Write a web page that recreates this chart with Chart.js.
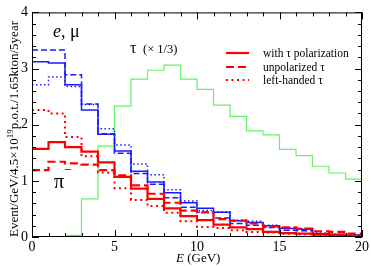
<!DOCTYPE html>
<html><head><meta charset="utf-8">
<script src="https://cdn.jsdelivr.net/npm/chart.js@4/dist/chart.umd.min.js"></script>
<style>html,body{margin:0;padding:0;background:#fff;}canvas{display:block;}</style>
</head><body>
<canvas id="c" width="371" height="266"></canvas>
<script>
// Bin edges (GeV)
const binEdges = [0,1,2,3,4,5,6,7,8,9,10,11,12,13,14,15,16,17,18,19,20];
// e, mu events
const eWithPol   = [3.12,3.10,2.71,2.26,1.83,1.53,1.17,0.98,0.79,0.61,0.51,0.44,0.29,0.26,0.20,0.15,0.14,0.06,0.05,0.03];
const eUnpol     = [3.33,3.33,2.89,2.37,1.84,1.49,1.13,0.94,0.70,0.53,0.44,0.34,0.24,0.21,0.17,0.12,0.11,0.05,0.04,0.03];
const eLeft      = [2.71,2.85,2.68,2.36,1.93,1.64,1.30,1.11,0.84,0.64,0.47,0.45,0.30,0.28,0.21,0.16,0.15,0.07,0.05,0.04];
// pi- events
const piWithPol  = [1.57,1.69,1.60,1.52,1.33,1.07,0.86,0.68,0.51,0.37,0.30,0.22,0.17,0.14,0.09,0.07,0.06,0.04,0.03,0.02];
const piUnpol    = [1.19,1.34,1.31,1.29,1.19,1.10,0.92,0.77,0.61,0.47,0.44,0.32,0.29,0.24,0.19,0.17,0.15,0.10,0.09,0.06];
const piLeft     = [2.26,2.20,1.78,1.44,1.15,0.87,0.66,0.55,0.43,0.28,0.18,0.16,0.12,0.09,0.08,0.06,0.05,0.03,0.03,0.02];
// tau events (x 1/3)
const tauThird   = [null,null,0.03,0.68,1.62,2.33,2.81,2.97,3.06,2.81,2.63,2.35,2.15,1.89,1.82,1.56,1.45,1.26,1.14,1.03];
// ticks
const xTickLabels = [0,5,10,15,20];
const yTickLabels = [0,1,2,3,4];
const legendLabels = ['with \u03c4 polarization','unpolarized \u03c4','left-handed \u03c4'];

function steps(vals){
  const pts = [];
  vals.forEach((v,i)=>{ if(v!==null) pts.push({x:binEdges[i], y:v}); });
  pts.push({x:binEdges[vals.length], y:vals[vals.length-1]});
  return pts;
}
const RED='#ff0000', BLUE='#1a1aff', GREEN='#66f266';
const SERIF='"Liberation Serif","DejaVu Serif",serif';
function ds(vals,color,width,dash){
  return {data:steps(vals),borderColor:color,borderWidth:width,borderDash:dash,
    stepped:'before',pointRadius:0,fill:false,tension:0,borderCapStyle:'butt'};
}
const datasets=[
  ds(piWithPol,RED,2.2,[]),
  ds(piUnpol,RED,2.2,[8,4]),
  ds(piLeft,RED,2,[2,3.5]),
  ds(eWithPol,BLUE,1.5,[]),
  ds(eUnpol,BLUE,1.5,[6,3]),
  ds(eLeft,BLUE,1.5,[1.5,2.5]),
  ds(tauThird,GREEN,1.2,[])
];

const deco={
  id:'deco',
  afterDraw(chart){
    const ctx=chart.ctx, a=chart.chartArea, xs=chart.scales.x, ys=chart.scales.y;
    ctx.save();
    // frame
    ctx.strokeStyle='#000'; ctx.lineWidth=1;
    ctx.strokeRect(a.left+0.5,a.top+0.5,a.right-a.left-1,a.bottom-a.top-1);
    ctx.beginPath();
    // x ticks
    for(let v=0; v<=20; v++){
      const px=Math.round(xs.getPixelForValue(v))+0.5;
      const L=(v%5===0)?7:4;
      ctx.moveTo(px,a.bottom); ctx.lineTo(px,a.bottom-L);
      ctx.moveTo(px,a.top); ctx.lineTo(px,a.top+L);
    }
    // y ticks
    for(let k=0;k<=20;k++){
      const v=k*0.2;
      const py=Math.round(ys.getPixelForValue(v))+0.5;
      const L=(k%5===0)?7:4;
      ctx.moveTo(a.left,py); ctx.lineTo(a.left+L,py);
      ctx.moveTo(a.right,py); ctx.lineTo(a.right-L,py);
    }
    ctx.stroke();

    ctx.fillStyle='#000';
    ctx.textBaseline='alphabetic';
    // e, mu label
    ctx.font='italic 18px '+SERIF; ctx.textAlign='left';
    ctx.fillText('e',53,37);
    let w=ctx.measureText('e').width;
    ctx.font='18px '+SERIF;
    ctx.fillText(', \u03bc',53+w,37);
    // pi- label
    ctx.font='20px '+SERIF;
    ctx.fillText('\u03c0',54,188);
    ctx.font='14px '+SERIF;
    ctx.fillText('\u2212',64,174);
    // tau label
    ctx.font='16px '+SERIF;
    ctx.fillText('\u03c4',130,53);
    ctx.font='12.5px '+SERIF;
    ctx.fillText('(\u00d7 1/3)',143,53);

    // legend
    const ly=[53,67,80];
    const styles=[[2.2,[]],[2.2,[8,4]],[2,[2,3.5]]];
    for(let i=0;i<3;i++){
      ctx.strokeStyle=RED; ctx.lineWidth=styles[i][0]; ctx.setLineDash(styles[i][1]);
      ctx.beginPath(); ctx.moveTo(226,ly[i]); ctx.lineTo(249,ly[i]); ctx.stroke();
    }
    ctx.setLineDash([]);
    ctx.font='11.5px '+SERIF; ctx.fillStyle='#000';
    for(let i=0;i<3;i++) ctx.fillText(legendLabels[i],263,ly[i]+4);

    // x title
    ctx.font='italic 13px '+SERIF; ctx.textAlign='left';
    ctx.fillText('E',176,262);
    w=ctx.measureText('E').width;
    ctx.font='13px '+SERIF;
    ctx.fillText(' (GeV)',176+w,262);

    // y title (rotated)
    ctx.translate(18,237); ctx.rotate(-Math.PI/2);
    ctx.font='13px '+SERIF;
    let x=0;
    const p1='Event/GeV/4.5\u00d710';
    ctx.fillText(p1,x,0); x+=ctx.measureText(p1).width;
    ctx.font='9px '+SERIF;
    ctx.fillText('19',x,-5); x+=ctx.measureText('19').width;
    ctx.font='13px '+SERIF;
    ctx.fillText('p.o.t./1.65kton/5year',x,0);
    ctx.restore();
  }
};

new Chart(document.getElementById('c'),{
  type:'line',
  data:{datasets},
  options:{
    responsive:false, animation:false, events:[],
    layout:{padding:{top:5,right:7,left:0,bottom:0}},
    plugins:{legend:{display:false},tooltip:{enabled:false}},
    scales:{
      x:{type:'linear',min:0,max:20,
        afterFit(s){s.height=29;},
        afterBuildTicks(s){s.ticks=xTickLabels.map(v=>({value:v}));},
        grid:{display:false,drawTicks:false},border:{display:false},
        ticks:{color:'#000',font:{family:SERIF,size:14},padding:2,maxRotation:0,autoSkip:false}},
      y:{type:'linear',min:0,max:4,
        afterFit(s){s.width=32;},
        afterBuildTicks(s){s.ticks=yTickLabels.map(v=>({value:v}));},
        grid:{display:false,drawTicks:false},border:{display:false},
        ticks:{color:'#000',font:{family:SERIF,size:14},padding:4}}
    }
  },
  plugins:[deco]
});
</script>
</body></html>
